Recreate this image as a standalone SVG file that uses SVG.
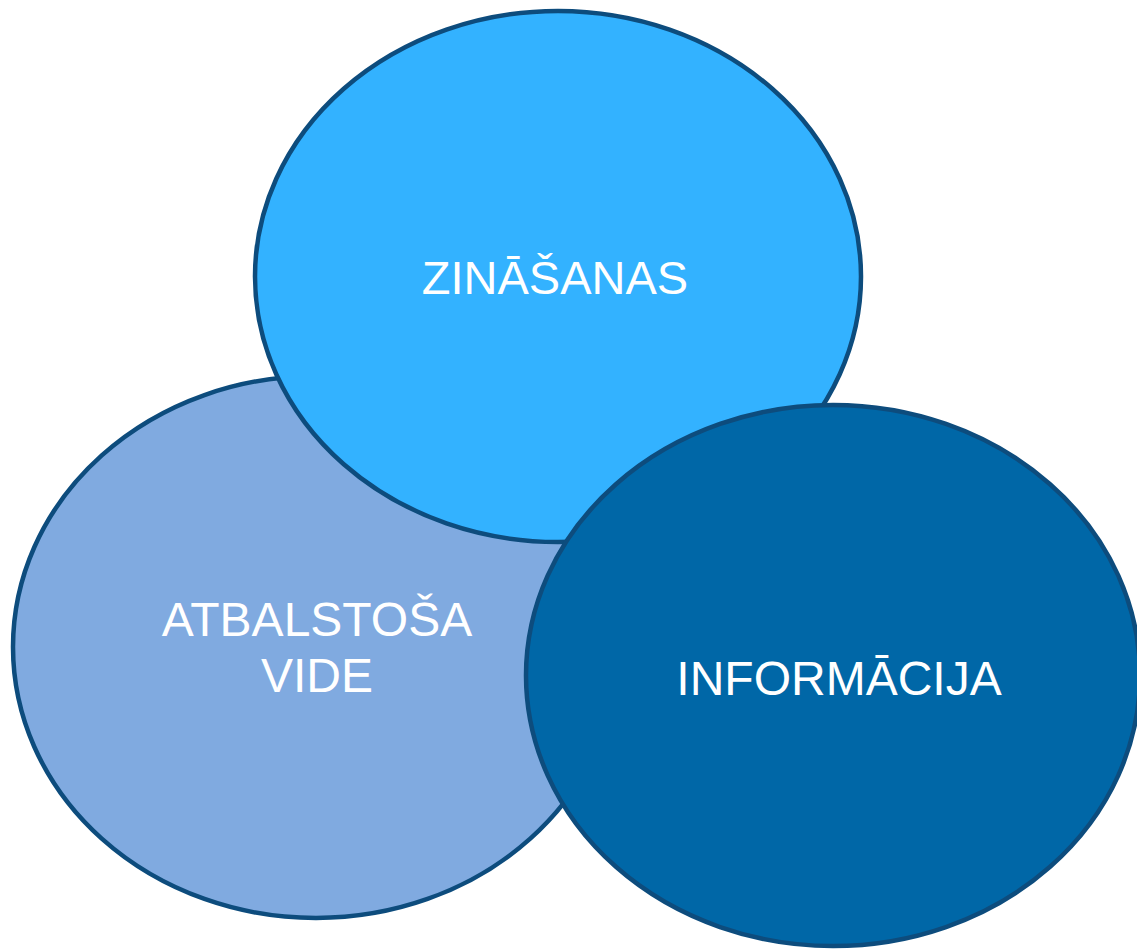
<svg xmlns="http://www.w3.org/2000/svg" width="1137" height="949" viewBox="0 0 1137 949">
<style>
.n ellipse{stroke:#0D4C7D;stroke-width:4.5}
.n text{font-family:"Liberation Sans",Arial,sans-serif;font-size:48px;fill:#ffffff;text-anchor:middle}
</style>
<rect width="1137" height="949" fill="#ffffff"/>
<g id="connectors"></g>
<g id="node-vide" class="n">
<ellipse cx="316" cy="647" rx="303" ry="271" fill="#80AAE0"/>
<text x="317" y="636">ATBALSTOŠA</text>
<text x="317" y="692">VIDE</text>
</g>
<g id="node-zinasanas" class="n">
<ellipse cx="558" cy="276.5" rx="303" ry="265.5" fill="#33B2FF"/>
<text x="555" y="294" style="font-size:47px">ZINĀŠANAS</text>
</g>
<g id="node-informacija" class="n">
<ellipse cx="833" cy="675.5" rx="307" ry="270.5" fill="#0067A7"/>
<text x="839" y="695">INFORMĀCIJA</text>
</g>
</svg>
